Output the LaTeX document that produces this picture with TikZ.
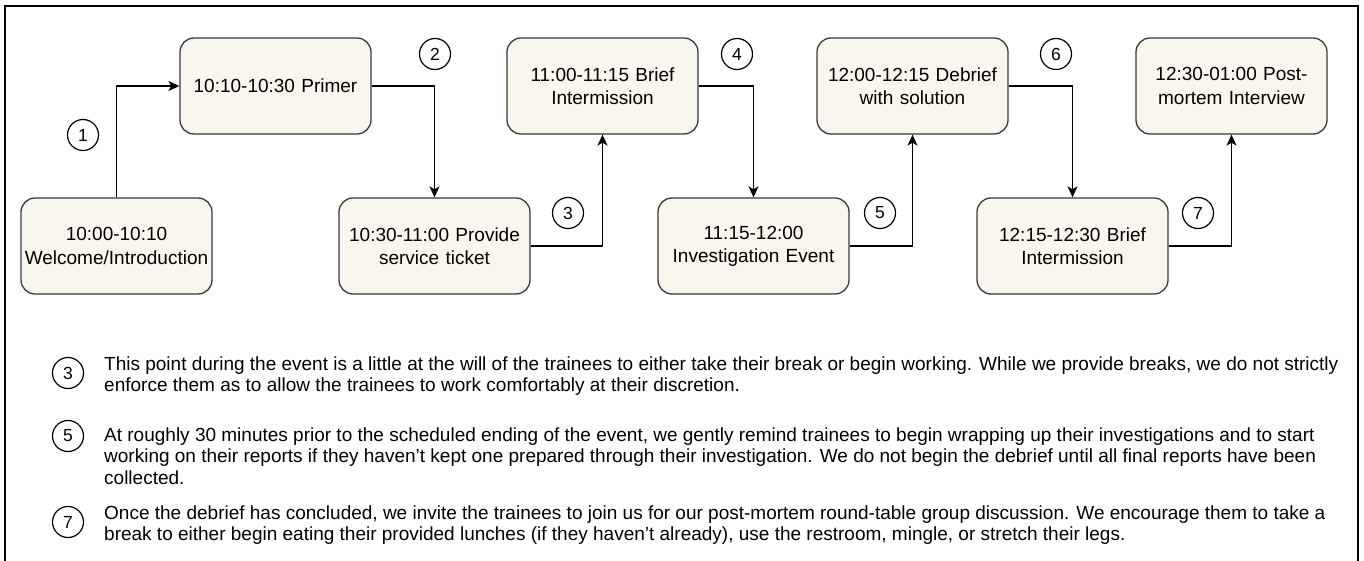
\documentclass[tikz,border=0pt]{standalone}
\usepackage{fontspec}
\setmainfont{Liberation Sans}
\usetikzlibrary{arrows.meta}
\definecolor{boxfill}{HTML}{F9F7ED}
\definecolor{boxline}{HTML}{36393D}
\begin{document}
\begin{tikzpicture}[x=1pt,y=-1pt,
  box/.style={draw=boxline, fill=boxfill, rounded corners=14pt, minimum width=191pt, minimum height=96pt, text width=187pt, align=center, font=\fontsize{19}{23.3}\selectfont, line width=1.3pt, inner sep=0pt},
  num/.style={draw=black, circle, minimum size=31pt, inner sep=0pt, font=\fontsize{17.5}{17.5}\selectfont, line width=1.2pt},
  conn/.style={draw=black, line width=1.4pt, -{Stealth[length=11pt,width=10pt,inset=3pt]}},
  note/.style={anchor=west, align=left, inner sep=0pt, font=\fontsize{19}{21.7}\selectfont}]
\useasboundingbox[fill=white] (0,0) rectangle (1364,561);
\draw[line width=1.3pt] (5,562) -- (5,6) -- (1358,6) -- (1358,562);

\node[box] (b1) at (116.5,246) {10:00-10:10\\Welcome/Introduction};
\node[box] (b2) at (275.5,86) {10:10-10:30 Primer};
\node[box] (b3) at (434.5,246) {10:30-11:00 Provide\\service ticket};
\node[box] (b4) at (602.5,86) {11:00-11:15 Brief\\Intermission};
\node[box] (b5) at (753.5,246) {11:15-12:00\\Investigation Event};
\node[box] (b6) at (912.5,86) {12:00-12:15 Debrief\\with solution};
\node[box] (b7) at (1072.5,246) {12:15-12:30 Brief\\Intermission};
\node[box] (b8) at (1231.5,86) {12:30-01:00 Post-\\mortem Interview};

\draw[conn] (b1.north) |- (b2.west);
\draw[conn] (b2.east) -| (b3.north);
\draw[conn] (b3.east) -| (b4.south);
\draw[conn] (b4.east) -| (b5.north);
\draw[conn] (b5.east) -| (b6.south);
\draw[conn] (b6.east) -| (b7.north);
\draw[conn] (b7.east) -| (b8.south);

\node[num] (c1) at (83,135) {1};
\node[num] (c2) at (435,54) {2};
\node[num] (c3) at (568,213) {3};
\node[num] (c4) at (737,54) {4};
\node[num] (c5) at (880,213) {5};
\node[num] (c6) at (1056,54) {6};
\node[num] (c7) at (1198,213) {7};

\node[num] (n3) at (68,373) {3};
\node[num] (n5) at (68,436) {5};
\node[num] (n7) at (68,522) {7};

\node[note] (t3) at (104,376) {This point during the event is a little at the will of the trainees to either take their break or begin working. While we provide breaks, we do not strictly\\enforce them as to allow the trainees to work comfortably at their discretion.};
\node[note] (t5) at (104,456) {At roughly 30 minutes prior to the scheduled ending of the event, we gently remind trainees to begin wrapping up their investigations and to start\\working on their reports if they haven’t kept one prepared through their investigation. We do not begin the debrief until all final reports have been\\collected.};
\node[note] (t7) at (104,525) {Once the debrief has concluded, we invite the trainees to join us for our post-mortem round-table group discussion. We encourage them to take a\\break to either begin eating their provided lunches (if they haven’t already), use the restroom, mingle, or stretch their legs.};
\end{tikzpicture}
\end{document}
